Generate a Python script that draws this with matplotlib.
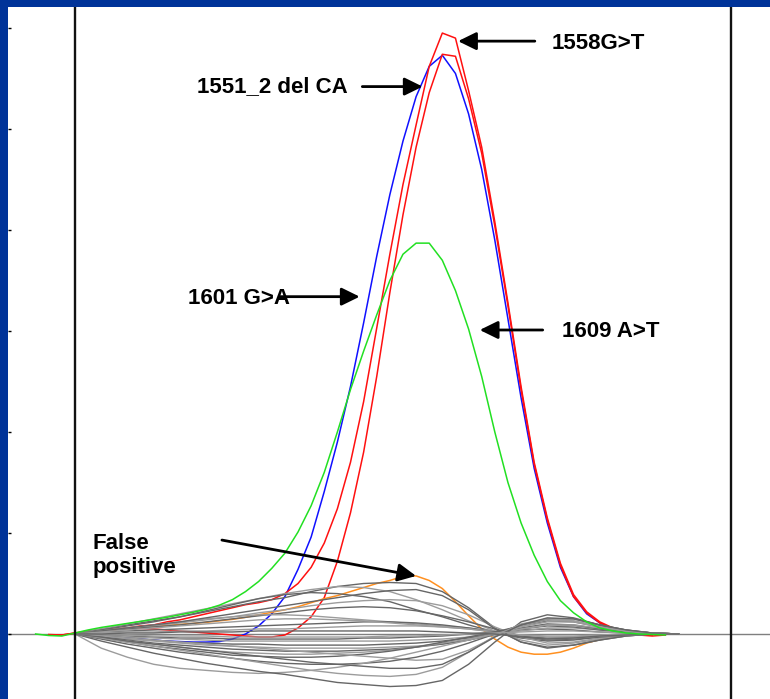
import numpy as np
import matplotlib
matplotlib.use("Agg")
import matplotlib.pyplot as plt

nan = np.nan

# Temperature grid (deg C) for the highlighted difference curves
temps = np.round(np.arange(77.4, 87.41, 0.2), 1)
# Coarser grid for the wild-type / background curves
gray_temps = np.round(np.arange(78.0, 87.21, 0.4), 1)

# Normalised difference signal of the variant samples
red_1558 = [nan, -0.01, -0.01, 0.01, 0.02, 0.03, 0.04, 0.06, 0.08, 0.09, 0.12, 0.14, 0.17,
            0.20, 0.23, 0.26, 0.29, 0.31, 0.34, 0.40, 0.50, 0.66, 0.90, 1.24, 1.70, 2.30,
            3.03, 3.76, 4.45, 5.04, 5.62, 5.95, 5.90, 5.38, 4.82, 4.08, 3.28, 2.45, 1.70,
            1.15, 0.70, 0.39, 0.22, 0.12, 0.06, 0.02, -0.01, -0.01, nan, nan, nan]
red_1558b = [nan, -0.005, -0.01, 0.01, 0.03, 0.04, 0.05, 0.06, 0.055, 0.05, 0.04, 0.03, 0.02,
             0.01, 0.0, -0.01, -0.02, -0.03, -0.03, -0.01, 0.06, 0.17, 0.36, 0.72, 1.20, 1.80,
             2.55, 3.38, 4.15, 4.82, 5.36, 5.74, 5.72, 5.30, 4.76, 4.04, 3.25, 2.42, 1.68,
             1.13, 0.68, 0.37, 0.21, 0.11, 0.05, 0.01, -0.01, -0.02, -0.01, nan, nan]
blue_1551 = [nan, nan, nan, 0.0, -0.01, -0.02, -0.03, -0.04, -0.05, -0.06, -0.07, -0.075, -0.08,
             -0.08, -0.075, -0.05, 0.0, 0.08, 0.20, 0.37, 0.64, 0.96, 1.41, 1.90, 2.45, 3.08,
             3.74, 4.35, 4.88, 5.32, 5.62, 5.73, 5.55, 5.15, 4.60, 3.90, 3.12, 2.34, 1.64,
             1.10, 0.66, 0.37, 0.20, 0.11, 0.05, 0.02, 0.0, -0.005, nan, nan, nan]
green_1609 = [0.0, -0.015, -0.02, 0.01, 0.04, 0.065, 0.085, 0.105, 0.125, 0.145, 0.165, 0.19,
              0.215, 0.245, 0.285, 0.34, 0.42, 0.52, 0.65, 0.80, 1.01, 1.27, 1.60, 2.00, 2.42,
              2.80, 3.16, 3.50, 3.76, 3.87, 3.87, 3.70, 3.40, 3.02, 2.55, 2.00, 1.50, 1.10,
              0.78, 0.52, 0.33, 0.21, 0.12, 0.06, 0.03, 0.01, 0.0, -0.005, -0.01, nan, nan]
orange_fp = [nan, nan, nan, 0.0, 0.02, 0.03, 0.04, 0.05, 0.065, 0.075, 0.085, 0.095, 0.105,
             0.115, 0.13, 0.145, 0.165, 0.19, 0.215, 0.24, 0.27, 0.31, 0.35, 0.38, 0.42, 0.46,
             0.50, 0.53, 0.57, 0.575, 0.53, 0.45, 0.32, 0.18, 0.05, -0.05, -0.13, -0.18, -0.20,
             -0.20, -0.18, -0.14, -0.09, -0.055, -0.03, -0.01, nan, nan, nan, nan, nan]

# Wild-type samples
gray_curves = [
    [0.0, 0.05, 0.09, 0.13, 0.17, 0.22, 0.27, 0.32, 0.36, 0.42, 0.47, 0.50, 0.51, 0.50, 0.42, 0.26, 0.06, -0.08, -0.14, -0.11, -0.06, -0.02, 0.0, 0.0],
    [0.0, 0.05, 0.10, 0.15, 0.20, 0.25, 0.30, 0.35, 0.40, 0.44, 0.47, 0.46, 0.42, 0.34, 0.24, 0.13, 0.03, -0.06, -0.11, -0.09, -0.05, -0.02, 0.0, 0.0],
    [0.0, 0.04, 0.08, 0.12, 0.17, 0.23, 0.29, 0.35, 0.39, 0.41, 0.40, 0.37, 0.32, 0.24, 0.17, 0.09, 0.02, -0.04, -0.07, -0.06, -0.03, -0.01, 0.0, 0.0],
    [0.0, 0.03, 0.06, 0.08, 0.11, 0.14, 0.17, 0.21, 0.24, 0.28, 0.31, 0.33, 0.34, 0.33, 0.28, 0.19, 0.07, -0.03, -0.09, -0.08, -0.04, -0.01, 0.0, 0.0],
    [0.0, 0.03, 0.05, 0.07, 0.09, 0.12, 0.15, 0.18, 0.21, 0.24, 0.26, 0.27, 0.26, 0.23, 0.18, 0.12, 0.05, -0.02, -0.06, -0.05, -0.03, -0.01, 0.0, 0.0],
    [0.0, 0.03, 0.06, 0.09, 0.12, 0.15, 0.17, 0.19, 0.19, 0.18, 0.16, 0.14, 0.12, 0.10, 0.08, 0.06, 0.03, -0.02, -0.05, -0.04, -0.02, -0.01, 0.0, 0.0],
    [0.0, 0.02, 0.03, 0.04, 0.05, 0.06, 0.07, 0.08, 0.09, 0.10, 0.11, 0.12, 0.12, 0.11, 0.09, 0.06, 0.02, -0.02, -0.04, -0.03, -0.02, -0.01, 0.0, 0.0],
    [0.0, 0.01, 0.02, 0.02, 0.03, 0.03, 0.04, 0.05, 0.05, 0.06, 0.07, 0.08, 0.08, 0.08, 0.07, 0.05, 0.02, -0.01, -0.02, -0.02, -0.01, 0.0, 0.0, 0.0],
    [0.0, 0.03, 0.06, 0.09, 0.12, 0.16, 0.20, 0.24, 0.28, 0.32, 0.36, 0.40, 0.43, 0.44, 0.38, 0.24, 0.05, -0.08, -0.13, -0.11, -0.06, -0.02, 0.0, 0.0],
    [0.0, 0.02, 0.04, 0.06, 0.08, 0.10, 0.12, 0.14, 0.15, 0.15, 0.14, 0.13, 0.11, 0.09, 0.07, 0.05, 0.02, -0.01, -0.03, -0.03, -0.02, -0.01, 0.0, 0.0],
    [0.0, -0.01, -0.02, -0.03, -0.04, -0.04, -0.05, -0.05, -0.05, -0.05, -0.05, -0.04, -0.04, -0.03, -0.02, 0.0, 0.02, 0.04, 0.05, 0.04, 0.02, 0.01, 0.0, 0.0],
    [0.0, -0.02, -0.03, -0.04, -0.05, -0.06, -0.07, -0.07, -0.07, -0.07, -0.07, -0.07, -0.07, -0.06, -0.05, -0.03, 0.0, 0.03, 0.06, 0.06, 0.04, 0.02, 0.0, 0.0],
    [0.0, -0.02, -0.04, -0.06, -0.08, -0.09, -0.10, -0.10, -0.11, -0.11, -0.11, -0.11, -0.10, -0.09, -0.07, -0.04, 0.0, 0.05, 0.08, 0.07, 0.04, 0.02, 0.01, 0.0],
    [0.0, -0.03, -0.05, -0.07, -0.09, -0.11, -0.12, -0.13, -0.14, -0.14, -0.14, -0.14, -0.13, -0.12, -0.10, -0.06, -0.01, 0.05, 0.09, 0.08, 0.05, 0.02, 0.01, 0.0],
    [0.0, -0.03, -0.06, -0.09, -0.11, -0.13, -0.15, -0.16, -0.17, -0.17, -0.17, -0.16, -0.15, -0.13, -0.10, -0.06, 0.0, 0.06, 0.10, 0.09, 0.05, 0.02, 0.01, 0.0],
    [0.0, -0.04, -0.07, -0.10, -0.13, -0.16, -0.18, -0.19, -0.20, -0.20, -0.19, -0.18, -0.16, -0.13, -0.09, -0.05, 0.0, 0.05, 0.09, 0.09, 0.06, 0.03, 0.01, 0.0],
    [0.0, -0.04, -0.08, -0.12, -0.15, -0.18, -0.21, -0.22, -0.23, -0.23, -0.22, -0.20, -0.17, -0.13, -0.08, -0.03, 0.02, 0.08, 0.13, 0.12, 0.07, 0.03, 0.01, 0.0],
    [0.0, -0.02, -0.04, -0.06, -0.08, -0.10, -0.12, -0.14, -0.16, -0.18, -0.20, -0.22, -0.24, -0.26, -0.25, -0.16, -0.03, 0.08, 0.14, 0.13, 0.08, 0.03, 0.01, 0.0],
    [0.0, -0.05, -0.10, -0.14, -0.18, -0.21, -0.24, -0.27, -0.29, -0.30, -0.30, -0.29, -0.27, -0.23, -0.17, -0.09, 0.0, 0.09, 0.15, 0.15, 0.09, 0.04, 0.01, 0.0],
    [0.0, -0.14, -0.23, -0.30, -0.34, -0.36, -0.38, -0.39, -0.38, -0.36, -0.33, -0.29, -0.24, -0.18, -0.12, -0.06, 0.0, 0.07, 0.12, 0.12, 0.07, 0.03, 0.01, 0.0],
    [0.0, -0.07, -0.13, -0.19, -0.24, -0.29, -0.33, -0.37, -0.40, -0.44, -0.48, -0.50, -0.52, -0.51, -0.46, -0.30, -0.08, 0.12, 0.19, 0.16, 0.09, 0.04, 0.01, 0.0],
    [0.0, -0.04, -0.08, -0.12, -0.16, -0.20, -0.24, -0.28, -0.32, -0.36, -0.39, -0.41, -0.42, -0.40, -0.33, -0.18, -0.02, 0.10, 0.15, 0.13, 0.07, 0.03, 0.01, 0.0],
    [0.0, -0.03, -0.07, -0.10, -0.13, -0.16, -0.19, -0.22, -0.25, -0.28, -0.30, -0.32, -0.34, -0.34, -0.30, -0.18, -0.03, 0.09, 0.16, 0.15, 0.09, 0.04, 0.01, 0.0],
    [0.0, -0.01, -0.01, -0.02, -0.02, -0.02, -0.03, -0.03, -0.03, -0.03, -0.03, -0.03, -0.02, -0.02, -0.01, 0.0, 0.01, 0.02, 0.03, 0.03, 0.02, 0.01, 0.0, 0.0],
    [0.0, 0.0, 0.01, 0.01, 0.02, 0.02, 0.02, 0.03, 0.03, 0.03, 0.03, 0.03, 0.03, 0.03, 0.02, 0.01, 0.0, -0.03, -0.05, -0.04, -0.02, -0.01, 0.0, 0.0],
]
gray_colors = ["#666666", "#9c9c9c"]

region_bounds = [78.0, 88.0]
signal_ticks = [0, 1, 2, 3, 4, 5, 6]

fig = plt.figure(figsize=(7.7, 6.99), dpi=100, facecolor="#003399")
ax = fig.add_axes([8 / 770, 0, 762 / 770, 692 / 699])
ax.set_facecolor("white")
ax.set_xlim(76.979, 88.595)
ax.set_ylim(-0.6436, 6.208)
for s in ax.spines.values():
    s.set_visible(False)
ax.set_xticks([])
ax.set_yticks(signal_ticks)
ax.tick_params(axis="y", direction="in", length=2, width=1, colors="black",
               labelleft=False)

ax.axhline(0, color="#7f7f7f", lw=1.0, zorder=1)
for b in region_bounds:
    ax.axvline(b, color="#111111", lw=1.7, zorder=6)

ax.plot(temps, blue_1551, color="#1010ff", lw=1.1, zorder=2)
ax.plot(temps, red_1558b, color="#ff1010", lw=1.1, zorder=2)
ax.plot(temps, red_1558, color="#ff1010", lw=1.1, zorder=2)
ax.plot(temps, orange_fp, color="#ff9020", lw=1.1, zorder=2)
for i, g in enumerate(gray_curves):
    ax.plot(gray_temps, g, color=gray_colors[i % 2], lw=1.0, zorder=3)
ax.plot(temps, green_1609, color="#22e022", lw=1.1, zorder=4)

font = dict(family=["Liberation Sans", "DejaVu Sans"], fontsize=16,
            fontweight="bold", color="black")
arrow = dict(arrowstyle="-|>,head_length=0.55,head_width=0.27", color="black",
             lw=2.0, mutation_scale=20, shrinkA=0, shrinkB=0)

ax.text(85.27, 5.85, "1558G>T", va="center", ha="left", zorder=7, **font)
ax.annotate("", xy=(83.84, 5.87), xytext=(85.01, 5.87), arrowprops=arrow, zorder=7)

ax.text(79.86, 5.42, "1551_2 del CA", va="center", ha="left", zorder=7, **font)
ax.annotate("", xy=(83.30, 5.42), xytext=(82.38, 5.42), arrowprops=arrow, zorder=7)

ax.text(79.72, 3.32, "1601 G>A", va="center", ha="left", zorder=7, **font)
ax.annotate("", xy=(82.34, 3.34), xytext=(81.12, 3.34), arrowprops=arrow, zorder=7)

ax.text(85.42, 3.0, "1609 A>T", va="center", ha="left", zorder=7, **font)
ax.annotate("", xy=(84.17, 3.01), xytext=(85.13, 3.01), arrowprops=arrow, zorder=7)

# The false-positive arrow points at the peak of the orange trace
fp = np.array(orange_fp)
ipk = int(np.nanargmax(fp))
ax.text(78.27, 0.78, "False\npositive", va="center", ha="left", linespacing=1.2,
        zorder=7, **font)
ax.annotate("", xy=(temps[ipk], fp[ipk]), xytext=(80.24, 0.93), arrowprops=arrow,
            zorder=7)

fig.savefig("out.png", dpi=100, facecolor=fig.get_facecolor())
